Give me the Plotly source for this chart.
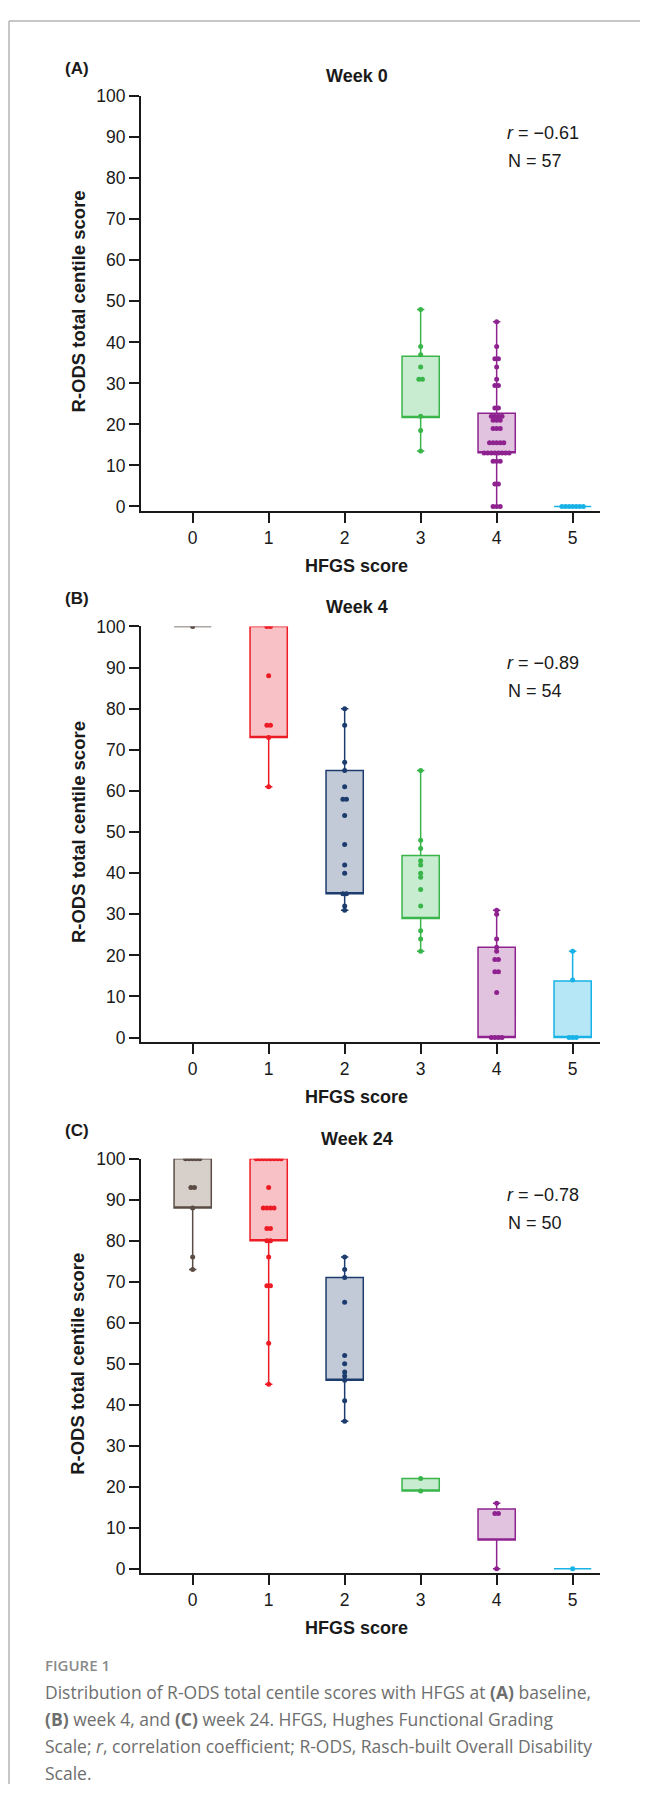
import plotly.graph_objects as go

# ---------------- data ----------------
HFGS = [0, 1, 2, 3, 4, 5]
X_TICK_LABELS = ["0", "1", "2", "3", "4", "5"]
Y_TICKS = [0, 10, 20, 30, 40, 50, 60, 70, 80, 90, 100]

# Week 0
W0_H3 = [48, 39, 37, 34, 31, 31, 22, 18.5, 13.5]
W0_H4 = [45, 39, 36, 36, 34, 31, 29.5, 29.5, 24, 24, 22, 22, 22, 22, 21, 21, 21,
         19, 19, 19, 15.5, 15.5, 15.5, 15.5, 15.5, 13, 13, 13, 13, 13, 13, 13, 13,
         11, 11, 11, 5.5, 5.5, 0, 0, 0]
W0_H5 = [0, 0, 0, 0, 0, 0, 0]
W0_Q1 = [None, None, None, 21.7, 13.1, 0]
W0_Q3 = [None, None, None, 36.6, 22.7, 0]

# Week 4
W4_H0 = [100]
W4_H1 = [100, 100, 88, 76, 76, 73, 61]
W4_H2 = [80, 76, 67, 65, 61, 58, 58, 54, 47, 42, 40, 35, 35, 32, 31]
W4_H3 = [65, 48, 46, 43, 42, 40, 39, 36, 32, 26, 24, 21]
W4_H4 = [31, 30, 24, 22, 21, 19, 19, 16, 16, 11, 0, 0, 0, 0]
W4_H5 = [21, 14, 0, 0, 0]
W4_Q1 = [100, 73, 35, 29, 0, 0]
W4_Q3 = [100, 100, 65, 44.3, 22, 13.8]

# Week 24
W24_H0 = [100, 100, 100, 100, 100, 93, 93, 88, 76, 73]
W24_H1 = [100, 100, 100, 100, 100, 100, 100, 100, 93, 88, 88, 88, 88, 83, 83,
          80, 80, 76, 69, 69, 55, 45]
W24_H2 = [76, 73, 71, 65, 52, 50, 48, 47, 46, 41, 36]
W24_H3 = [22, 19]
W24_H4 = [16, 13.5, 13.5, 0]
W24_H5 = [0]
W24_Q1 = [88, 80, 46, 19, 7, 0]
W24_Q3 = [100, 100, 71, 22, 14.6, 0]

PANELS = [
    {"tag": "(A)", "title": "Week 0", "r": "\u22120.61", "n": "57",
     "groups": [None, None, None, W0_H3, W0_H4, W0_H5], "q1": W0_Q1, "q3": W0_Q3},
    {"tag": "(B)", "title": "Week 4", "r": "\u22120.89", "n": "54",
     "groups": [W4_H0, W4_H1, W4_H2, W4_H3, W4_H4, W4_H5], "q1": W4_Q1, "q3": W4_Q3},
    {"tag": "(C)", "title": "Week 24", "r": "\u22120.78", "n": "50",
     "groups": [W24_H0, W24_H1, W24_H2, W24_H3, W24_H4, W24_H5], "q1": W24_Q1, "q3": W24_Q3},
]

LINE_COLORS = ["#5b4d45", "#ed1c24", "#1d3c6e", "#39b54a", "#8e2390", "#18b2e6"]
FILL_COLORS = ["#d6cfca", "#f8c1c5", "#c2cad8", "#c8ecd0", "#e1c3e0", "#b6e7f6"]

# ---------------- layout geometry (page pixels) ----------------
# the page body has an 8px margin, so the figure itself starts at (8, 8)
OFF = 8
W, H = 648 - 2 * OFF, 1798 - 2 * OFF
PLOT_X0, PLOT_X1 = 141, 600
PLOT_Y = [(87, 505), (622, 1041), (1159, 1577)]   # top, bottom of each plot area
FONT = "Liberation Sans, Arial, sans-serif"
INK = "#1a1a1a"


def px(x):
    return (x - OFF) / W


def py(y):
    return 1 - (y - OFF) / H


def swarm(values, center, step=0.047):
    """spread tied values horizontally around the group centre"""
    xs, ys = [], []
    seen = {}
    for v in values:
        seen[v] = seen.get(v, 0) + 1
    for v, cnt in seen.items():
        for i in range(cnt):
            xs.append(center + (i - (cnt - 1) / 2) * step)
            ys.append(v)
    return xs, ys


fig = go.Figure()
annotations = []

for p_i, panel in enumerate(PANELS):
    ax = "" if p_i == 0 else str(p_i + 1)
    xref, yref = "x" + ax, "y" + ax
    top, bot = PLOT_Y[p_i]
    for g_i, vals in enumerate(panel["groups"]):
        if vals is None:
            continue
        fig.add_trace(go.Box(
            x=[HFGS[g_i]], q1=[panel["q1"][g_i]], median=[panel["q1"][g_i]],
            q3=[panel["q3"][g_i]], lowerfence=[min(vals)], upperfence=[max(vals)],
            width=0.49, whiskerwidth=0.2, fillcolor=FILL_COLORS[g_i],
            line=dict(color=LINE_COLORS[g_i], width=1.5), boxpoints=False,
            hoverinfo="skip", showlegend=False, xaxis=xref, yaxis=yref))
        xs, ys = swarm(vals, HFGS[g_i])
        fig.add_trace(go.Scatter(
            x=xs, y=ys, mode="markers",
            marker=dict(size=5, color=LINE_COLORS[g_i], line=dict(width=0)),
            showlegend=False, hoverinfo="skip", xaxis=xref, yaxis=yref))

    axis_common = dict(showline=True, linecolor=INK, linewidth=2, ticks="outside",
                       ticklen=10, tickwidth=2, tickcolor=INK, showgrid=False,
                       zeroline=False, tickfont=dict(family=FONT, size=17.5, color=INK))
    fig.layout["xaxis" + ax] = dict(domain=[px(PLOT_X0), px(PLOT_X1)], range=[-0.68, 5.36],
                                    tickvals=HFGS, ticktext=X_TICK_LABELS,
                                    anchor=yref, **axis_common)
    fig.layout["yaxis" + ax] = dict(domain=[py(bot), py(top)], range=[-1, 100],
                                    tickvals=Y_TICKS, anchor=xref, **axis_common)

    def ann(text, x, y, size, bold=False, xanchor="center", angle=0):
        annotations.append(dict(
            text=("<b>%s</b>" % text) if bold else text, x=px(x), y=py(y),
            xref="paper", yref="paper", xanchor=xanchor, yanchor="middle",
            showarrow=False, textangle=angle,
            font=dict(family=FONT, size=size, color=INK)))

    ann(panel["tag"], 63, top - 28, 17, bold=True, xanchor="left")
    ann(panel["title"], 357, top - 20, 18, bold=True)
    ann("HFGS score", 357, bot + 56, 18, bold=True)
    ann("R-ODS total centile score", 78, (top + bot - 4) / 2, 18.5, bold=True, angle=-90)
    ann("<i>r</i> = " + panel["r"], 505, top + 37, 18, xanchor="left")
    ann("N = " + panel["n"], 506, top + 65, 18, xanchor="left")

CAP_FONT = "Open Sans, Noto Sans, sans-serif"
CAP_COLOR = "#6e6e6e"
annotations.append(dict(text="FIGURE 1", x=px(43), y=py(1670), xref="paper", yref="paper",
                        xanchor="left", yanchor="middle", showarrow=False,
                        font=dict(family=CAP_FONT, size=15, color="#8a8a8a", weight=600)))
CAPTION = [
    "Distribution of R-ODS total centile scores with HFGS at <b>(A)</b> baseline,",
    "<b>(B)</b> week 4, and <b>(C)</b> week 24. HFGS, Hughes Functional Grading",
    "Scale; <i>r</i>, correlation coefficient; R-ODS, Rasch-built Overall Disability",
    "Scale.",
]
for i, line in enumerate(CAPTION):
    annotations.append(dict(text=line, x=px(43), y=py(1697 + 27.3 * i), xref="paper",
                            yref="paper", xanchor="left", yanchor="middle", showarrow=False,
                            font=dict(family=CAP_FONT, size=17.5, color=CAP_COLOR)))

shapes = [
    dict(type="line", xref="paper", yref="paper", x0=px(9), x1=px(9),
         y0=py(11), y1=0, line=dict(color="#b4b4b4", width=1.5)),
    dict(type="line", xref="paper", yref="paper", x0=px(9), x1=1,
         y0=py(11), y1=py(11), line=dict(color="#b4b4b4", width=1.5)),
]

fig.update_layout(width=W, height=H, autosize=False, margin=dict(l=0, r=0, t=0, b=0),
                  paper_bgcolor="white", plot_bgcolor="white",
                  annotations=annotations, shapes=shapes)

fig.write_html("out.html")
